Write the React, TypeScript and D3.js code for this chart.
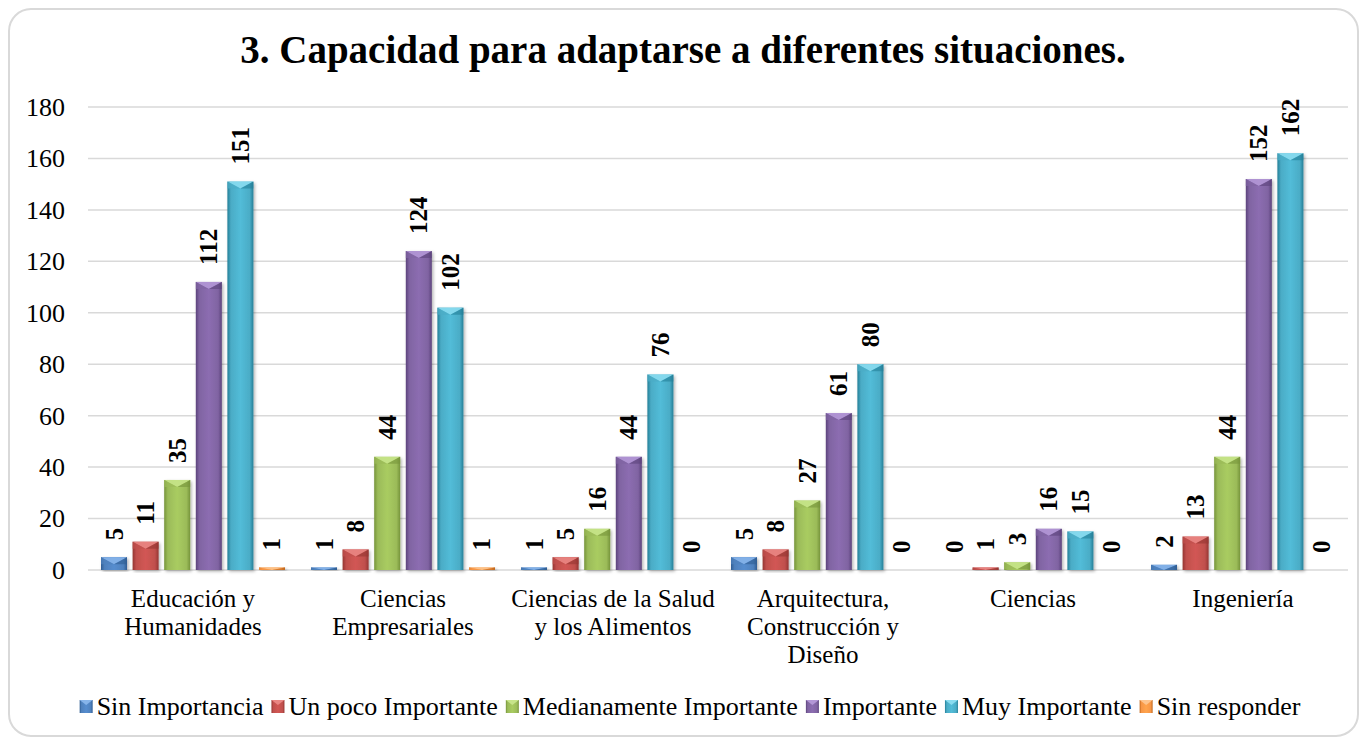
import * as d3 from 'd3';

const titleText = '3. Capacidad para adaptarse a diferentes situaciones.';

const categories = [
  'Educación y\nHumanidades',
  'Ciencias\nEmpresariales',
  'Ciencias de la Salud\ny los Alimentos',
  'Arquitectura,\nConstrucción y\nDiseño',
  'Ciencias',
  'Ingeniería',
];

const seriesNames = [
  'Sin Importancia',
  'Un poco Importante',
  'Medianamente Importante',
  'Importante',
  'Muy Importante',
  'Sin responder',
];

const sinImportancia = [5, 1, 1, 5, 0, 2];
const unPocoImportante = [11, 8, 5, 8, 1, 13];
const medianamenteImportante = [35, 44, 16, 27, 3, 44];
const importante = [112, 124, 44, 61, 16, 152];
const muyImportante = [151, 102, 76, 80, 15, 162];
const sinResponder = [1, 1, 0, 0, 0, 0];

const yTicks = [0, 20, 40, 60, 80, 100, 120, 140, 160, 180];

const seriesValues = [sinImportancia, unPocoImportante, medianamenteImportante, importante, muyImportante, sinResponder];

// body, dark edge, light top
const palette = [
  { base: '#4f81bd', dark: '#2f5d93', light: '#86b4ea' },
  { base: '#c0504d', dark: '#953532', light: '#e98683' },
  { base: '#9bbb59', dark: '#76943a', light: '#c7e48a' },
  { base: '#8064a2', dark: '#5c437c', light: '#b397d6' },
  { base: '#4bacc6', dark: '#237f98', light: '#8adcf0' },
  { base: '#f79646', dark: '#c0671c', light: '#fdc48e' },
];

const W = 1367;
const H = 740;
const serif = "'Liberation Serif', 'Times New Roman', serif";

const measure = (() => {
  const ctx = document.createElement('canvas').getContext('2d');
  return (txt: string, font: string) => {
    if (!ctx) return txt.length * 10;
    ctx.font = font;
    return ctx.measureText(txt).width;
  };
})();

const Bar = ({ x, y, w, h, i }: { x: number; y: number; w: number; h: number; i: number }) => {
  if (h <= 0) return null;
  const b = Math.min(7, h);
  return (
    <g>
      <rect x={x} y={y} width={w} height={h} fill={`url(#grad${i})`} filter="url(#shadow)" />
      <polygon points={`${x},${y} ${x + w},${y} ${x + w / 2},${y + b}`} fill={palette[i].light} opacity={0.9} />
      <polygon points={`${x},${y} ${x + w / 2},${y + b} ${x},${y + b}`} fill={palette[i].base} opacity={0.7} />
      <polygon points={`${x + w},${y} ${x + w / 2},${y + b} ${x + w},${y + b}`} fill={palette[i].dark} opacity={0.6} />
    </g>
  );
};

export default function App() {
  const left = 88;
  const right = 1348;
  const y = d3.scaleLinear().domain([0, 180]).range([570, 107]);
  const x0 = d3.scaleBand<string>().domain(categories).range([left, right]).padding(0);
  const x1 = d3
    .scaleBand<string>()
    .domain(seriesNames)
    .range([13, x0.bandwidth() - 13])
    .paddingInner(0.177)
    .paddingOuter(0);

  // legend layout
  const legendSize = 26;
  const legendFont = `${legendSize}px ${serif}`;
  const sw = 13;
  const gapSw = 4;
  const gapItem = 8;
  const widths = seriesNames.map((s) => measure(s, legendFont));
  const total = widths.reduce((a, b) => a + sw + gapSw + b, 0) + gapItem * (seriesNames.length - 1);
  let lx = 690 - total / 2;
  const legendItems = seriesNames.map((s, i) => {
    const item = { name: s, i, x: lx };
    lx += sw + gapSw + widths[i] + gapItem;
    return item;
  });

  return (
    <svg
      width={W}
      height={H}
      style={{ position: 'absolute', left: 0, top: 0, background: '#fff' }}
      fontFamily={serif}
    >
      <defs>
        {palette.map((p, i) => (
          <linearGradient key={i} id={`grad${i}`} x1="0" x2="1" y1="0" y2="0">
            <stop offset="0%" stopColor={p.dark} />
            <stop offset="14%" stopColor={p.base} />
            <stop offset="50%" stopColor={d3.color(p.base)!.brighter(0.25).formatHex()} />
            <stop offset="86%" stopColor={p.base} />
            <stop offset="100%" stopColor={p.dark} />
          </linearGradient>
        ))}
        <filter id="shadow" x="-20%" y="-5%" width="150%" height="115%">
          <feDropShadow dx="1.5" dy="1.5" stdDeviation="1.5" floodColor="#000" floodOpacity="0.3" />
        </filter>
      </defs>

      <rect x={9} y={9} width={1349} height={727} rx={22} ry={22} fill="#fff" stroke="#d9d9d9" strokeWidth={2} />

      <text x={683} y={63} textAnchor="middle" fontSize={39} fontWeight="bold" fill="#000">
        {titleText}
      </text>

      {yTicks.map((t) => (
        <g key={t}>
          <line x1={left} x2={right} y1={y(t)} y2={y(t)} stroke="#d9d9d9" strokeWidth={1.5} />
          <text x={65} y={y(t)} dy="0.34em" textAnchor="end" fontSize={26} fill="#000">
            {t}
          </text>
        </g>
      ))}

      {categories.map((c, ci) => {
        const gx = x0(c)!;
        return (
          <g key={c}>
            {seriesNames.map((s, si) => {
              const v = seriesValues[si][ci];
              const bx = gx + x1(s)!;
              const bw = x1.bandwidth();
              const top = y(v);
              return (
                <g key={s}>
                  <Bar x={bx} y={top} w={bw} h={y(0) - top} i={si} />
                  <text
                    transform={`translate(${bx + bw / 2},${top - 17}) rotate(-90)`}
                    dy="0.34em"
                    textAnchor="start"
                    fontSize={25}
                    fontWeight="bold"
                    fill="#000"
                  >
                    {v}
                  </text>
                </g>
              );
            })}
            <text x={gx + x0.bandwidth() / 2} y={607} textAnchor="middle" fontSize={25} fill="#000">
              {c.split('\n').map((line, li) => (
                <tspan key={li} x={gx + x0.bandwidth() / 2} dy={li === 0 ? 0 : 28}>
                  {line}
                </tspan>
              ))}
            </text>
          </g>
        );
      })}

      {legendItems.map((it) => (
        <g key={it.name}>
          <rect x={it.x} y={700} width={sw} height={sw} fill={`url(#grad${it.i})`} />
          <polygon
            points={`${it.x},700 ${it.x + sw},700 ${it.x + sw / 2},705`}
            fill={palette[it.i].light}
          />
          <text x={it.x + sw + gapSw} y={715} fontSize={legendSize} fill="#000">
            {it.name}
          </text>
        </g>
      ))}
    </svg>
  );
}
